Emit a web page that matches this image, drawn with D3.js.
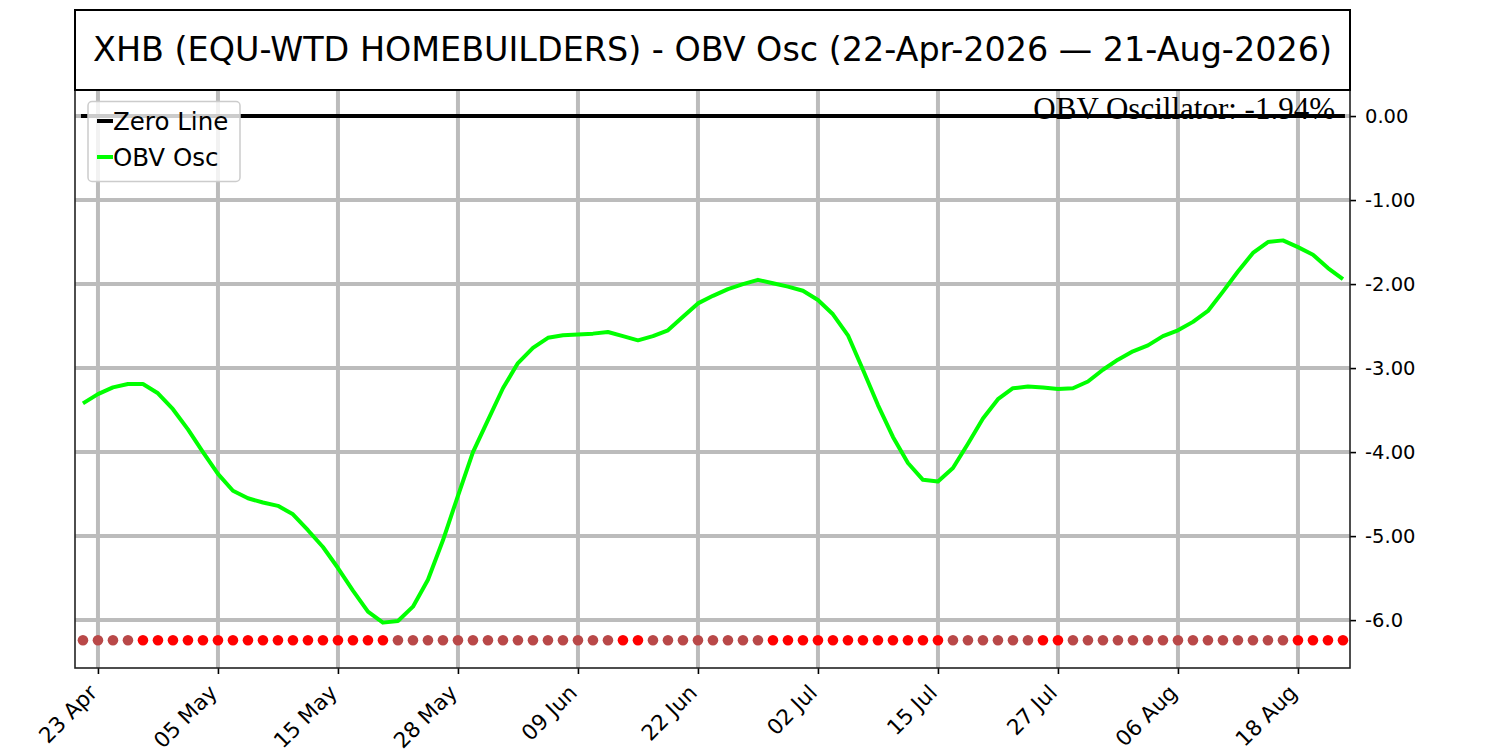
<!DOCTYPE html>
<html>
<head>
    <meta charset="UTF-8">
    <script src="https://d3js.org/d3.v7.min.js"></script>
    <title>XHB OBV Osc</title>
    <style>
        body{margin:0;background:#fff;}
        text{font-family:"DejaVu Sans",sans-serif;}
    </style>
</head>
<body>
    <div id="container"></div>
</body>
<script>
    // trading days, 22-Apr-2026 .. 21-Aug-2026
    var dates=[
        "2026-04-22","2026-04-23","2026-04-24","2026-04-27","2026-04-28","2026-04-29","2026-04-30",
        "2026-05-01","2026-05-04","2026-05-05","2026-05-06","2026-05-07","2026-05-08","2026-05-11","2026-05-12",
        "2026-05-13","2026-05-14","2026-05-15","2026-05-18","2026-05-19","2026-05-20","2026-05-21","2026-05-22",
        "2026-05-26","2026-05-27","2026-05-28","2026-05-29",
        "2026-06-01","2026-06-02","2026-06-03","2026-06-04","2026-06-05","2026-06-08","2026-06-09","2026-06-10",
        "2026-06-11","2026-06-12","2026-06-15","2026-06-16","2026-06-17","2026-06-18","2026-06-22","2026-06-23",
        "2026-06-24","2026-06-25","2026-06-26","2026-06-29","2026-06-30",
        "2026-07-01","2026-07-02","2026-07-06","2026-07-07","2026-07-08","2026-07-09","2026-07-10","2026-07-13",
        "2026-07-14","2026-07-15","2026-07-16","2026-07-17","2026-07-20","2026-07-21","2026-07-22","2026-07-23",
        "2026-07-24","2026-07-27","2026-07-28","2026-07-29","2026-07-30","2026-07-31",
        "2026-08-03","2026-08-04","2026-08-05","2026-08-06","2026-08-07","2026-08-10","2026-08-11","2026-08-12",
        "2026-08-13","2026-08-14","2026-08-17","2026-08-18","2026-08-19","2026-08-20","2026-08-21"
    ];
    // OBV oscillator (%)
    var obvOsc=[
        -3.42,-3.31,-3.23,-3.19,-3.19,-3.30,-3.49,-3.73,-4.00,-4.26,
        -4.46,-4.55,-4.60,-4.64,-4.74,-4.93,-5.13,-5.38,-5.65,-5.90,
        -6.03,-6.01,-5.84,-5.52,-5.05,-4.52,-4.00,-3.62,-3.24,-2.94,
        -2.76,-2.64,-2.61,-2.60,-2.59,-2.57,-2.62,-2.67,-2.62,-2.55,
        -2.39,-2.23,-2.14,-2.06,-2.00,-1.95,-1.99,-2.03,-2.08,-2.19,
        -2.36,-2.61,-3.02,-3.44,-3.82,-4.13,-4.33,-4.35,-4.19,-3.90,
        -3.60,-3.37,-3.24,-3.22,-3.23,-3.25,-3.24,-3.16,-3.02,-2.90,
        -2.80,-2.73,-2.62,-2.55,-2.45,-2.32,-2.09,-1.85,-1.63,-1.50,
        -1.48,-1.56,-1.65,-1.81,-1.94
    ];
    // signal dots along the bottom: R = red, B = brown
    var signal=("BBBB"+"RRRRRRRRRRRRRRRRR"+"BBBBBBBBBBBBBBB"+"RR"+"BBBBBBBB"+
        "RRRRRRRRRRRR"+"BBBBBB"+"RR"+"BBBBBBBBBBBBBBB"+"RRRR").split("");
    var dotLevel=-6.24;
    var yTicks=[0,-1,-2,-3,-4,-5,-6];
    var yTickLabels=["0.00","-1.00","-2.00","-3.00","-4.00","-5.00","-6.0"];
    var xTickIdx=[1,9,17,25,33,41,49,57,65,73,81];
    var title="XHB (EQU-WTD HOMEBUILDERS) - OBV Osc (22-Apr-2026 \u2014 21-Aug-2026)";

    var width=1500,height=750,
        pLeft=75,pRight=1350,pTop=90,pBottom=668;

    var svg=d3.select("#container").append("svg")
        .attr("width",width).attr("height",height)
        .style("background","#fff");

    var x=d3.scaleLinear().domain([-0.53,84.47]).range([pLeft,pRight]);
    var y=d3.scaleLinear().domain([-6.57,0.31]).range([pBottom,pTop]);
    var parse=d3.timeParse("%Y-%m-%d"),fmt=d3.timeFormat("%d %b");

    // grid
    var grid=svg.append("g").attr("stroke","#bcbcbc").attr("stroke-width",4);
    grid.selectAll(".gx").data(xTickIdx).enter().append("line")
        .attr("x1",d=>x(d)).attr("x2",d=>x(d)).attr("y1",pTop).attr("y2",pBottom);
    grid.selectAll(".gy").data(yTicks).enter().append("line")
        .attr("x1",pLeft).attr("x2",pRight).attr("y1",d=>y(d)).attr("y2",d=>y(d));

    // dots
    svg.append("g").selectAll("circle").data(signal).enter().append("circle")
        .attr("cx",(d,i)=>x(i)).attr("cy",y(dotLevel)).attr("r",5.3)
        .attr("fill",d=>d=="R"?"#ff0000":"#b94848");

    // oscillator line
    var line=d3.line().x((d,i)=>x(i)).y(d=>y(d));
    svg.append("path").datum(obvOsc)
        .attr("d",line).attr("fill","none")
        .attr("stroke","#00ff00").attr("stroke-width",4).attr("stroke-linejoin","round");

    // current value text (sits under the zero line)
    svg.append("text")
        .attr("x",1335).attr("y",119)
        .attr("text-anchor","end")
        .style("font-family","'Liberation Serif',serif")
        .style("font-size","31px")
        .text("OBV Oscillator: "+obvOsc[obvOsc.length-1].toFixed(2)+"%");

    // zero line
    svg.append("line")
        .attr("x1",x(0)-2).attr("x2",x(obvOsc.length-1)+2)
        .attr("y1",y(0)).attr("y2",y(0))
        .attr("stroke","#000").attr("stroke-width",4);

    // legend
    var lg=svg.append("g");
    lg.append("rect").attr("x",88).attr("y",101.5).attr("width",152).attr("height",80)
        .attr("rx",4).attr("fill","#fff").attr("fill-opacity",0.8)
        .attr("stroke","#cccccc").attr("stroke-width",1.5);
    var items=[{name:"Zero Line",c:"#000"},{name:"OBV Osc",c:"#00ff00"}];
    var li=lg.selectAll(".li").data(items).enter().append("g")
        .attr("transform",(d,i)=>"translate(97,"+(121+i*36)+")");
    li.append("line").attr("x1",0).attr("x2",16).attr("stroke",d=>d.c).attr("stroke-width",4);
    li.append("text").attr("x",16).attr("y",9).style("font-size","24.5px").text(d=>d.name);

    // axes
    var yAxis=d3.axisRight(y).tickValues(yTicks).tickSize(6).tickPadding(9)
        .tickFormat((d,i)=>yTickLabels[i]);
    var ya=svg.append("g").attr("transform","translate("+pRight+",0)").call(yAxis);
    var xAxis=d3.axisBottom(x).tickValues(xTickIdx).tickSize(6)
        .tickFormat(d=>fmt(parse(dates[d])));
    var xa=svg.append("g").attr("transform","translate(0,"+pBottom+")").call(xAxis);
    [ya,xa].forEach(function(a){
        a.select(".domain").remove();
        a.selectAll(".tick line").attr("stroke","#000").attr("stroke-width",1.6);
        a.selectAll("text").attr("fill","#000").style("font-family","'DejaVu Sans'");
    });
    ya.selectAll("text").style("font-size","19.5px");
    xa.selectAll("text").style("font-size","21.5px")
        .attr("y",0).attr("dy",null)
        .attr("text-anchor","end")
        .attr("transform","translate(0,26) rotate(-45)");

    // frame
    svg.append("rect").attr("x",pLeft).attr("y",pTop).attr("width",pRight-pLeft).attr("height",pBottom-pTop)
        .attr("fill","none").attr("stroke","#222").attr("stroke-width",1.6);

    // title box
    svg.append("rect").attr("x",pLeft).attr("y",10).attr("width",pRight-pLeft).attr("height",80)
        .attr("fill","#fff").attr("stroke","#000").attr("stroke-width",2);
    svg.append("text").attr("x",(pLeft+pRight)/2).attr("y",61)
        .attr("text-anchor","middle").style("font-size","33.4px").text(title);
</script>
</html>
